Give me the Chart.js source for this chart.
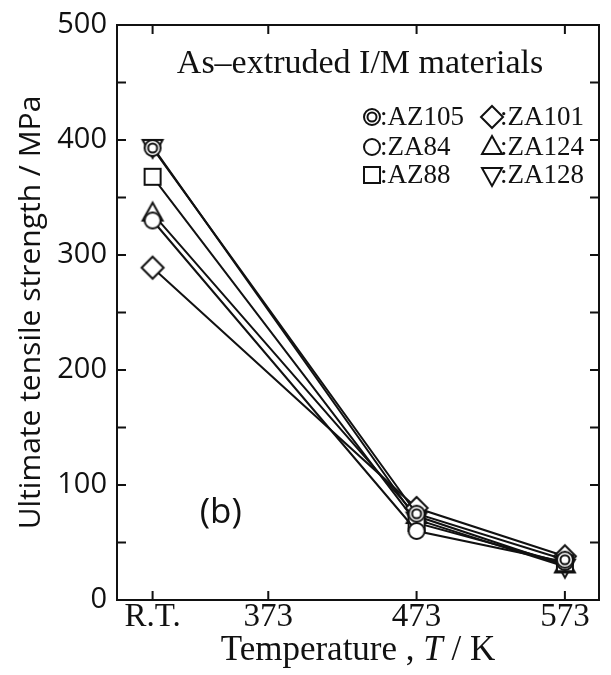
<!DOCTYPE html>
<html lang="en">
<head>
    <meta charset="UTF-8">
    <title>Ultimate tensile strength vs temperature</title>
    <script src="https://cdn.jsdelivr.net/npm/chart.js"></script>
    <style>
        body { margin: 0; background: #fff; }
        #uts { display: block; }
    </style>
</head>
<body>
<canvas id="uts" width="611" height="675"></canvas>
<script>
    // test temperatures (K); room temperature is plotted at 295
    const temps = [295, 473, 573];
    const tickValues = [295, 373, 473, 573];
    const tickLabels = ['R.T.', '373', '473', '573'];

    // UTS (MPa)
    const az105 = [393, 75, 35];
    const za84 = [330, 60, 33];
    const az88 = [368, 67, 32];
    const za101 = [289, 80, 38];
    const za124 = [336, 73, 30];
    const za128 = [394, 70, 29];

    // small marker images (open symbols, white inside)
    function marker(kind) {
        const c = document.createElement('canvas');
        c.width = 28; c.height = 28;
        const g = c.getContext('2d');
        g.translate(14, 14);
        g.lineWidth = 2;
        g.strokeStyle = '#111';
        g.fillStyle = '#fff';
        g.beginPath();
        if (kind === 'dcircle' || kind === 'circle') {
            g.arc(0, 0, 8, 0, Math.PI * 2);
        } else if (kind === 'square') {
            g.rect(-8, -8, 16, 16);
        } else if (kind === 'diamond') {
            g.moveTo(0, -11); g.lineTo(11, 0); g.lineTo(0, 11); g.lineTo(-11, 0); g.closePath();
        } else if (kind === 'up') {
            g.moveTo(0, -11); g.lineTo(10, 7); g.lineTo(-10, 7); g.closePath();
        } else if (kind === 'down') {
            g.moveTo(0, 11); g.lineTo(10, -7); g.lineTo(-10, -7); g.closePath();
        }
        g.fill();
        g.stroke();
        if (kind === 'dcircle') {
            g.beginPath();
            g.arc(0, 0, 4.5, 0, Math.PI * 2);
            g.stroke();
        }
        return c;
    }

    const series = [
        { label: 'AZ105', data: az105, kind: 'dcircle' },
        { label: 'ZA84', data: za84, kind: 'circle' },
        { label: 'AZ88', data: az88, kind: 'square' },
        { label: 'ZA101', data: za101, kind: 'diamond' },
        { label: 'ZA124', data: za124, kind: 'up' },
        { label: 'ZA128', data: za128, kind: 'down' }
    ];
    series.forEach(s => s.img = marker(s.kind));

    // frame, inward ticks, legend box and extra labels
    const decor = {
        id: 'decor',
        afterDraw(chart) {
            const ctx = chart.ctx;
            const a = chart.chartArea;
            const xs = chart.scales.x, ys = chart.scales.y;
            ctx.save();
            ctx.strokeStyle = '#111';
            ctx.lineWidth = 2;
            ctx.strokeRect(a.left, a.top, a.right - a.left, a.bottom - a.top);
            ctx.beginPath();
            tickValues.forEach(v => {
                const px = xs.getPixelForValue(v);
                ctx.moveTo(px, a.bottom); ctx.lineTo(px, a.bottom - 9);
                ctx.moveTo(px, a.top); ctx.lineTo(px, a.top + 9);
            });
            for (let v = 50; v < 500; v += 50) {
                const py = ys.getPixelForValue(v);
                ctx.moveTo(a.left, py); ctx.lineTo(a.left + 9, py);
                ctx.moveTo(a.right, py); ctx.lineTo(a.right - 9, py);
            }
            ctx.stroke();

            // x axis title with italic T
            ctx.fillStyle = '#111';
            ctx.textBaseline = 'middle';
            const parts = [
                ['35px "Liberation Serif"', 'Temperature , '],
                ['italic 35px "Liberation Serif"', 'T'],
                ['35px "Liberation Serif"', ' / K']
            ];
            let w = 0;
            parts.forEach(p => { ctx.font = p[0]; w += ctx.measureText(p[1]).width; });
            let x = (a.left + a.right) / 2 - w / 2;
            ctx.textAlign = 'left';
            parts.forEach(p => {
                ctx.font = p[0];
                ctx.fillText(p[1], x, 651);
                x += ctx.measureText(p[1]).width;
            });

            // inner title
            ctx.textAlign = 'center';
            ctx.font = '34px "Liberation Serif"';
            ctx.fillText('As\u2013extruded I/M materials', 360, 64);

            // legend, two columns
            ctx.font = '27px "Liberation Serif"';
            ctx.textAlign = 'left';
            const cols = [372, 492];
            const rows = [117, 147, 175];
            series.forEach((s, i) => {
                const cx = cols[Math.floor(i / 3)];
                const cy = rows[i % 3];
                ctx.drawImage(s.img, cx - 14, cy - 14);
                ctx.fillText(':' + s.label, cx + 8, cy + 1);
            });

            // panel label
            ctx.textAlign = 'center';
            ctx.font = '35px "Open Sans"';
            ctx.fillText('(b)', xs.getPixelForValue(341), ys.getPixelForValue(76));
            ctx.restore();
        }
    };

    new Chart(document.getElementById('uts'), {
        type: 'line',
        data: {
            datasets: series.map(s => ({
                label: s.label,
                data: temps.map((t, i) => ({ x: t, y: s.data[i] })),
                borderColor: '#111',
                borderWidth: 2,
                pointStyle: s.img,
                pointRadius: 10,
                tension: 0
            }))
        },
        options: {
            responsive: false,
            animation: false,
            layout: { padding: { top: 25, right: 7, left: 0, bottom: 0 } },
            plugins: { legend: { display: false }, tooltip: { enabled: false } },
            scales: {
                x: {
                    type: 'linear',
                    min: 271,
                    max: 596,
                    afterBuildTicks: scale => {
                        scale.ticks = tickValues.map(v => ({ value: v }));
                    },
                    afterFit: scale => { scale.height = 75; },
                    ticks: {
                        autoSkip: false,
                        maxRotation: 0,
                        padding: -10,
                        color: '#111',
                        font: { family: 'Liberation Serif', size: 33 },
                        callback: v => tickLabels[tickValues.indexOf(v)]
                    },
                    grid: { display: false },
                    border: { display: false }
                },
                y: {
                    min: 0,
                    max: 500,
                    afterFit: scale => { scale.width = 117; },
                    ticks: {
                        stepSize: 100,
                        padding: 2,
                        color: '#111',
                        font: { family: 'Open Sans', size: 29 }
                    },
                    grid: { display: false },
                    border: { display: false },
                    title: {
                        display: true,
                        text: 'Ultimate tensile strength / MPa',
                        color: '#111',
                        font: { family: 'Open Sans', size: 30 },
                        padding: { top: 13 }
                    }
                }
            }
        },
        plugins: [decor]
    });
</script>
</body>
</html>
